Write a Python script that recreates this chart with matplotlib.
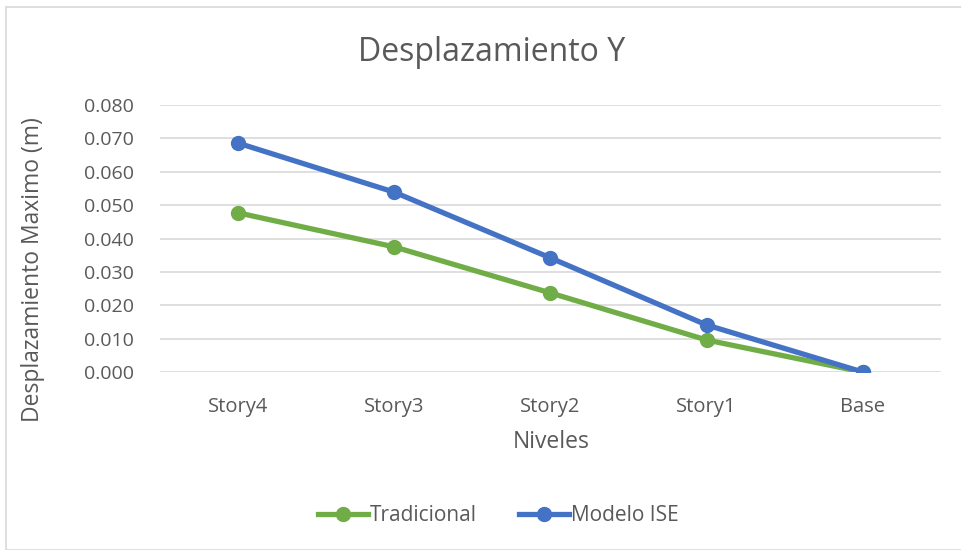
import matplotlib.pyplot as plt
from matplotlib.patches import Rectangle

niveles = ['Story4', 'Story3', 'Story2', 'Story1', 'Base']
tradicional = [0.0477, 0.0375, 0.0237, 0.0096, 0.0]
modelo_ise = [0.0686, 0.0539, 0.0342, 0.0141, 0.0]

plt.rcParams['font.family'] = ['Open Sans', 'DejaVu Sans']
txt = '#595959'

fig = plt.figure(figsize=(9.62, 5.5), dpi=100)
fig.patches.append(Rectangle((0.006, 0.0), 0.994, 0.987, transform=fig.transFigure,
                             fill=False, edgecolor='#D9D9D9', linewidth=1.2))
ax = fig.add_axes([0.1663, 0.3236, 0.8117, 0.4854])

x = range(len(niveles))
ax.plot(x, tradicional, color='#70AD47', lw=3.8, marker='o', ms=10, label='Tradicional')
ax.plot(x, modelo_ise, color='#4472C4', lw=3.8, marker='o', ms=10, label='Modelo ISE')

ax.set_xlim(-0.5, len(niveles) - 0.5)
ax.set_ylim(0, 0.08)
ax.set_yticks([i * 0.01 for i in range(9)])
ax.set_yticklabels([f'{i * 0.01:.3f}' for i in range(9)])
ax.set_xticks(list(x))
ax.set_xticklabels(niveles)
ax.grid(axis='y', color='#D9D9D9', lw=1.2)
ax.set_axisbelow(True)
for s in ax.spines.values():
    s.set_visible(False)
ax.tick_params(axis='x', length=0, labelsize=14.5, colors=txt, pad=18)
ax.tick_params(axis='y', length=0, labelsize=14, colors=txt, pad=19)

fig.text(0.511, 0.905, 'Desplazamiento Y', ha='center', va='center', fontsize=23, color=txt)
fig.text(0.034, 0.51, 'Desplazamiento Maximo (m)', rotation=90, ha='center', va='center',
         fontsize=16.5, color=txt)
fig.text(0.573, 0.197, 'Niveles', ha='center', va='center', fontsize=16.5, color=txt)

fig.legend(loc='center', bbox_to_anchor=(0.518, 0.063), ncol=2, frameon=False, fontsize=15,
           labelcolor=txt, handlelength=2.4, handletextpad=0.1, columnspacing=2.0)

plt.savefig('out.png')
